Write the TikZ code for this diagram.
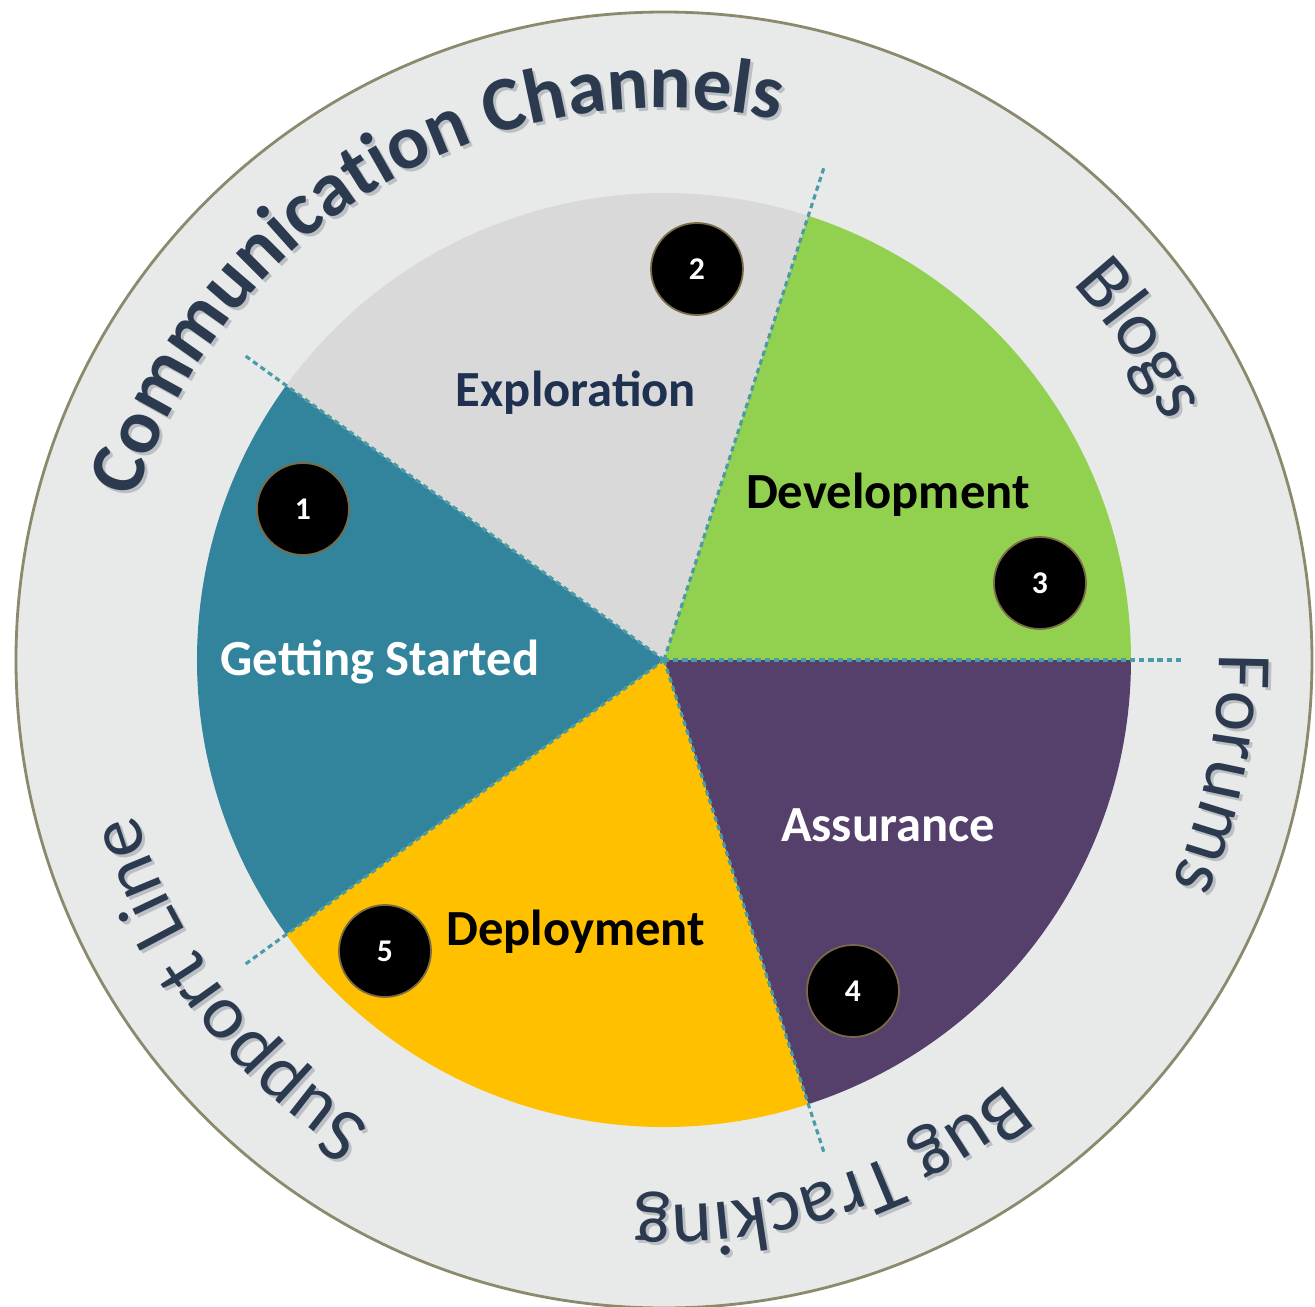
\documentclass[tikz,border=0pt]{standalone}
\usepackage{fontspec}
\setmainfont{Carlito}
\usepackage{tikz}
\usetikzlibrary{decorations.text}
\definecolor{ringgray}{HTML}{E8EAEA}
\definecolor{rimline}{HTML}{8C8A6C}
\definecolor{startteal}{HTML}{31849B}
\definecolor{explgray}{HTML}{D9D9D9}
\definecolor{devgreen}{HTML}{92D050}
\definecolor{assurpurple}{HTML}{553F6B}
\definecolor{deploygold}{HTML}{FFC000}
\definecolor{navytext}{HTML}{1F3150}
\definecolor{ringink}{HTML}{2C3A50}
\definecolor{ringshade}{HTML}{BCC0C4}
\definecolor{dashteal}{HTML}{4A9BA6}
\definecolor{numrim}{HTML}{7A6A45}
\newcommand{\ringfont}{\fontsize{22}{26}\selectfont}
\newcommand{\ringbold}{\bfseries\fontsize{22}{26}\selectfont}
\tikzset{%
    slicelabel/.style={font=\bfseries\fontsize{14.4}{17}\selectfont, anchor=base, inner sep=0pt},
    numdot/.style={circle, fill=black, draw=numrim, line width=0.5pt, minimum size=0.92cm,
        inner sep=0pt, text=white, font=\bfseries\fontsize{9}{10}\selectfont},
    splitline/.style={dashteal, line width=0.9pt, dash pattern=on 1.5pt off 1.1pt},
    ringtext/.style 2 args={decorate, decoration={text along path, text align=center,
        text color=#1, text={#2}}}
}

\begin{document}
\begin{tikzpicture}
    \useasboundingbox (-6.64,-6.47) rectangle (6.51,6.60);
    \filldraw[fill=ringgray, draw=rimline, line width=0.8pt] (0,0) circle (6.48);
    \coordinate (hub) at (0,0);

    % the five phases
    \foreach \a/\c in {144/startteal, 72/explgray, 0/devgreen, -72/assurpurple, 216/deploygold}
        \fill[\c] (hub) -- (\a:4.67) arc[start angle=\a, delta angle=72, radius=4.67] -- cycle;
    \foreach \a in {0,72,144,216,288}{
        \coordinate (tip\a) at (\a:5.2);
        \draw[splitline] (hub) -- (tip\a);
    }

    \node[slicelabel, text=white] (start) at (-2.84,-0.15) {Getting Started};
    \node[slicelabel, text=navytext] (explore) at (-0.88,2.54) {Exploration};
    \node[slicelabel, text=black] (develop) at (2.24,1.51) {Development};
    \node[slicelabel, text=white] (assure) at (2.24,-1.81) {Assurance};
    \node[slicelabel, text=black] (deploy) at (-0.885,-2.85) {Deployment};

    \node[numdot] (n1) at (-3.61,1.51) {1};
    \node[numdot] (n2) at (0.33,3.91) {2};
    \node[numdot] (n3) at (3.76,0.77) {3};
    \node[numdot] (n4) at (1.89,-3.31) {4};
    \node[numdot] (n5) at (-2.79,-2.91) {5};

    % channels round the rim, shadow first
    \foreach \ink/\d in {ringshade/0.03, ringink/0}{
        \path[ringtext={\ink}{|\ringbold|Communication Channels}, shift={(\d,-\d)}]
            (200.5:5.52) arc[start angle=200.5, end angle=40.5, radius=5.52];
        \path[ringtext={\ink}{|\ringfont|Blogs}, shift={(\d,-\d)}]
            (94:5.55) arc[start angle=94, end angle=-26, radius=5.55];
        \path[ringtext={\ink}{|\ringfont|Forums}, shift={(\d,-\d)}]
            (48.5:5.55) arc[start angle=48.5, end angle=-71.5, radius=5.55];
        \path[ringtext={\ink}{|\ringfont|Bug Tracking}, shift={(\d,-\d)}]
            (-2:5.45) arc[start angle=-2, end angle=-142, radius=5.45];
        \path[ringtext={\ink}{|\ringfont|Support Line}, shift={(\d,-\d)}]
            (-63:5.5) arc[start angle=-63, end angle=-223, radius=5.5];
    }
\end{tikzpicture}
\end{document}
